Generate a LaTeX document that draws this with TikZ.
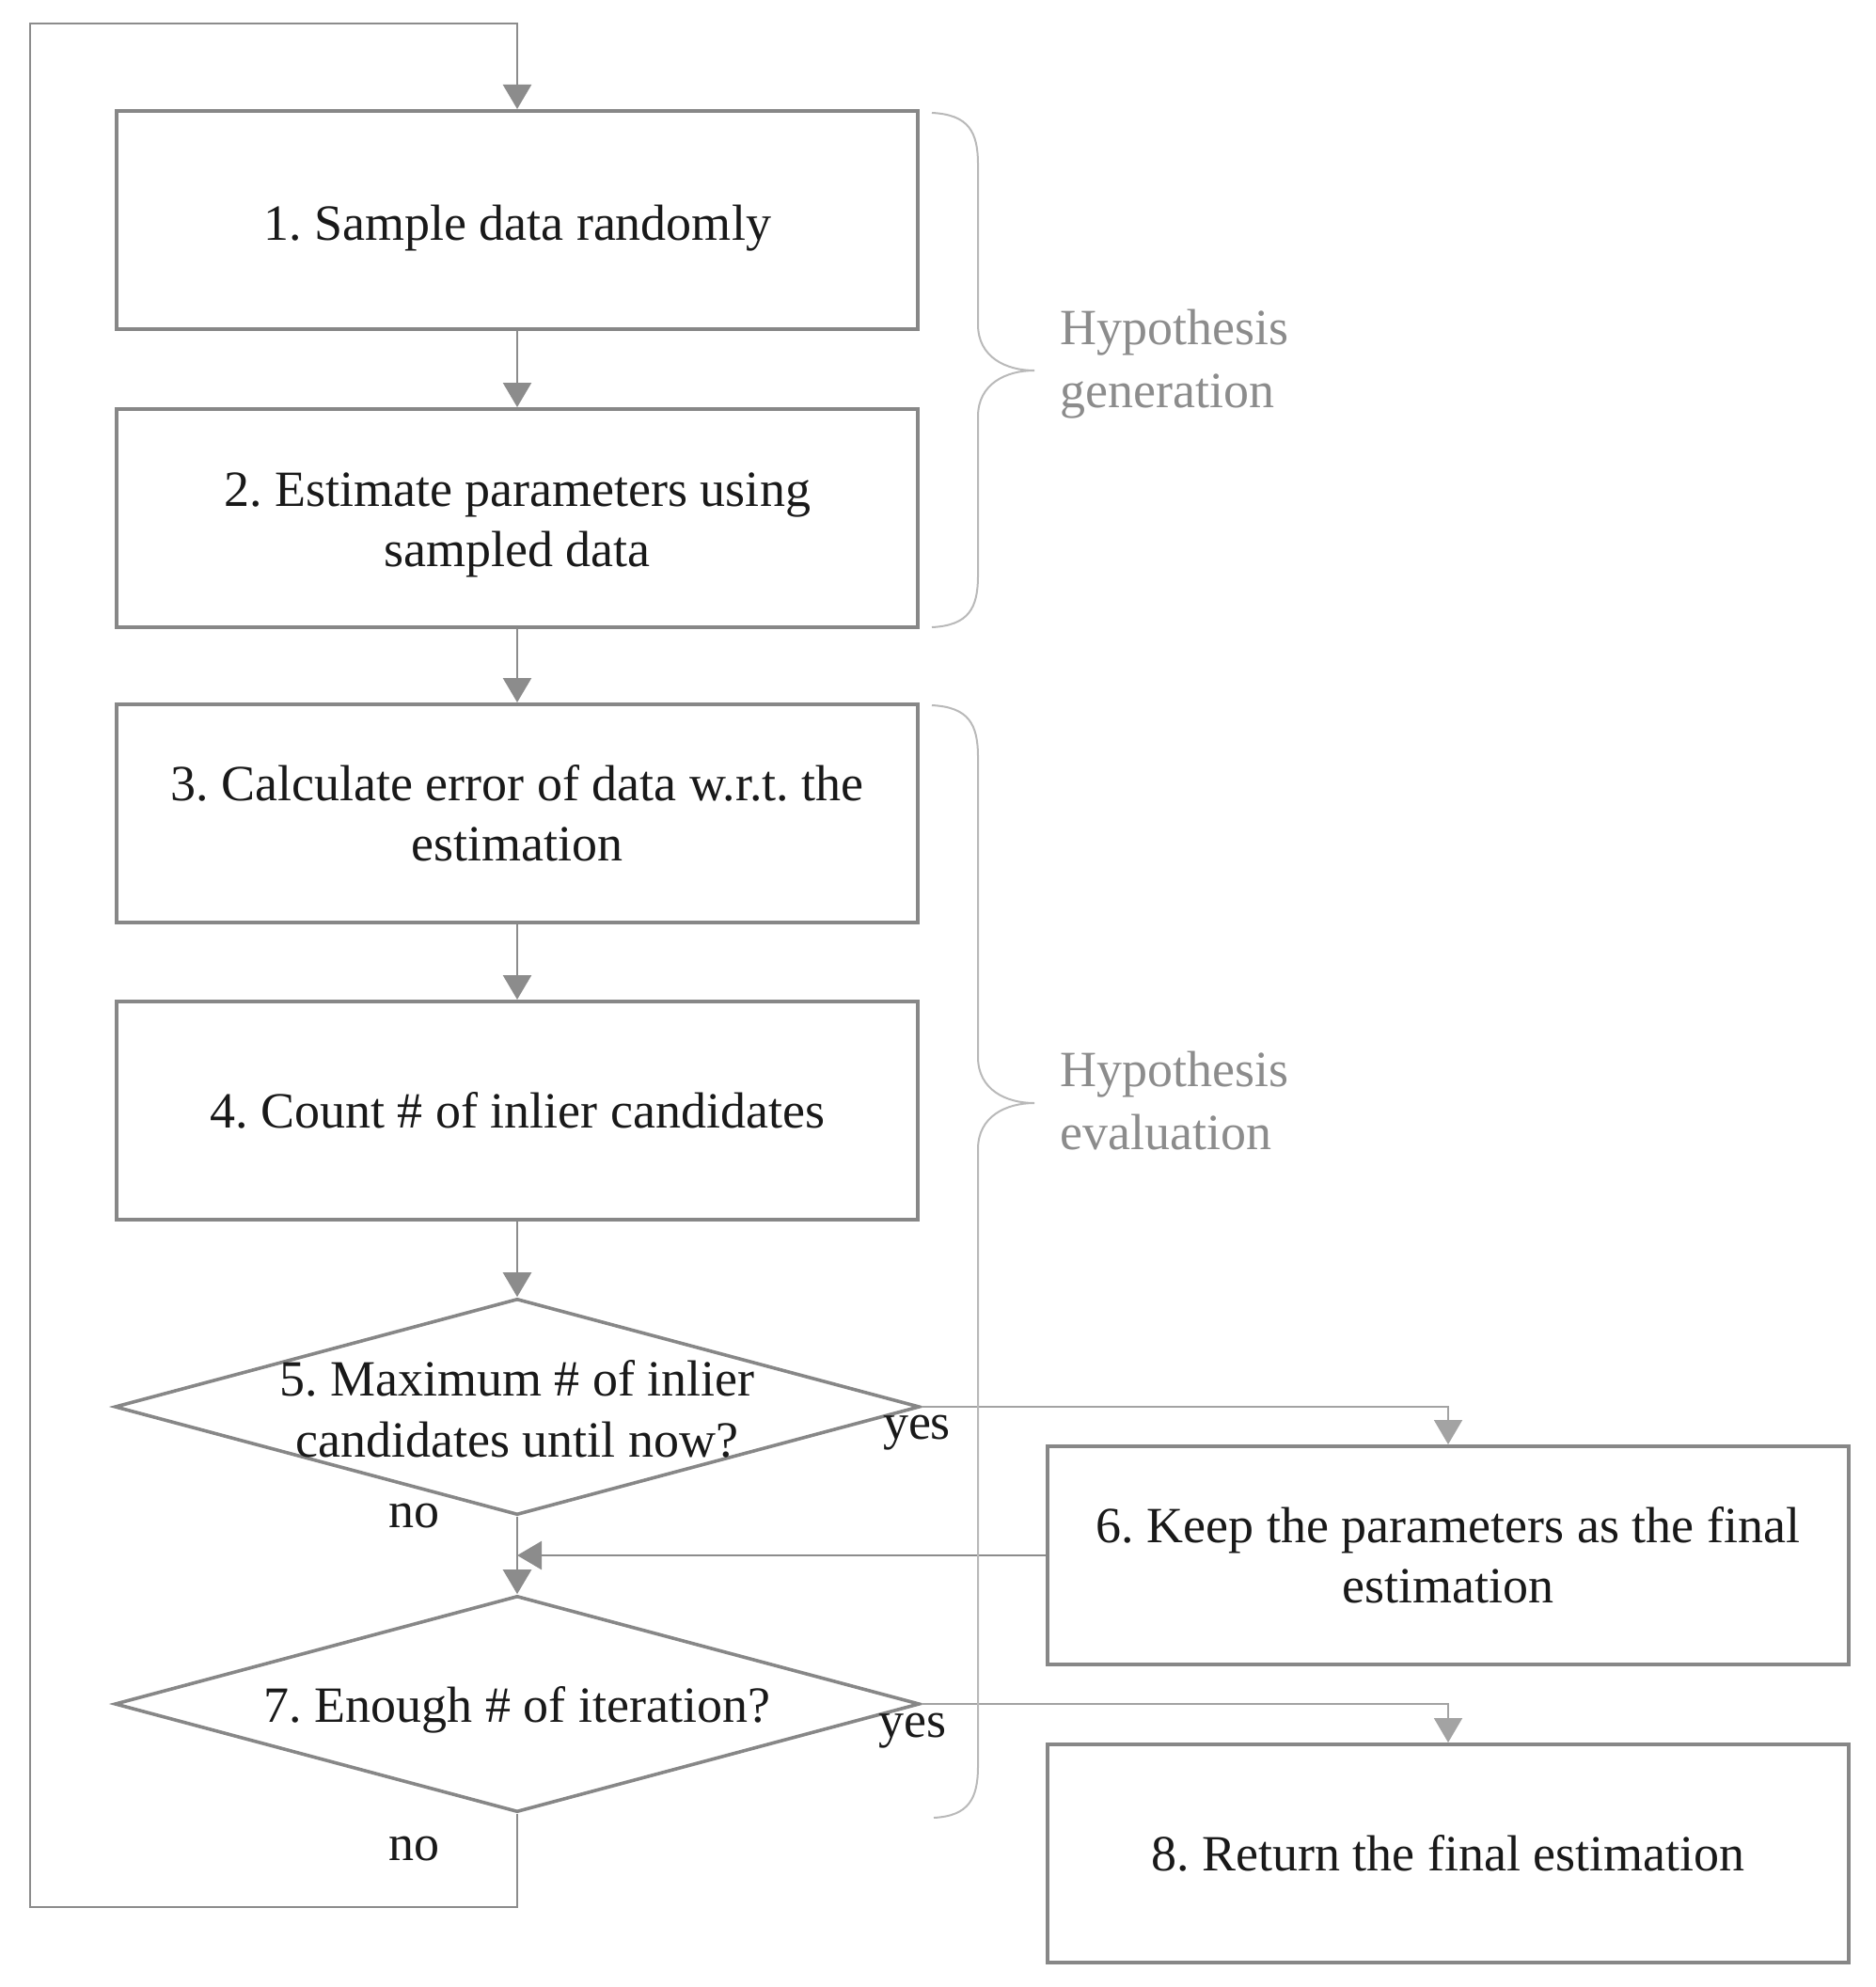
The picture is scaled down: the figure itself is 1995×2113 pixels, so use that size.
\documentclass[tikz,border=0pt]{standalone}
\usepackage{fontspec}
\setmainfont{Liberation Serif}
\frenchspacing
\usetikzlibrary{shapes.geometric,arrows.meta}
\definecolor{boxgray}{RGB}{135,135,135}
\definecolor{linegray}{RGB}{140,140,140}
\definecolor{bracegray}{RGB}{185,185,185}
\definecolor{hypgray}{RGB}{140,140,140}
\definecolor{txt}{RGB}{25,25,25}
\tikzset{
  stepbox/.style={draw=boxgray, line width=2pt, rectangle, minimum width=426pt, minimum height=116pt, inner sep=0pt, align=center, text=txt, font=\fontsize{27}{32}\selectfont},
  decbox/.style={draw=boxgray, line width=1.8pt, diamond, minimum width=428pt, minimum height=115pt, inner sep=0pt},
  dectext/.style={align=center, text=txt, font=\fontsize{27}{32.5}\selectfont, inner sep=0pt},
  lbl/.style={text=txt, font=\fontsize{27}{31}\selectfont, inner sep=0pt},
  conn/.style={draw=linegray, line width=1.3pt, -{Triangle[length=13pt,width=15pt]}},
  thinconn/.style={draw=linegray!80, line width=1pt, -{Triangle[length=13pt,width=15pt]}},
  bracestyle/.style={draw=bracegray, line width=1pt},
  hyp/.style={text=hypgray, font=\fontsize{27}{33.5}\selectfont, align=left, anchor=west, inner sep=0pt}
}
\begin{document}
\begin{tikzpicture}[x=0.5pt,y=-0.5pt]
\useasboundingbox (0,0) rectangle (1995,2113);
\node[stepbox] (b1) at (550,234) {\rule{0pt}{27pt}1. Sample data randomly};
\node[stepbox] (b2) at (550,551) {\rule{0pt}{25pt}2. Estimate parameters using\\sampled data};
\node[stepbox] (b3) at (550,865) {3. Calculate error of data w.r.t. the\\estimation};
\node[stepbox] (b4) at (550,1181) {4. Count \# of inlier candidates};
\node[decbox] (d5) at (550,1496) {};
\node[dectext] (d5t) at (550,1498) {5. Maximum \# of inlier\\candidates until now?};
\node[decbox] (d7) at (550,1812) {};
\node[dectext] (d7t) at (550,1818) {7. Enough \# of iteration?};
\node[stepbox] (b6) at (1540,1654) {6. Keep the parameters as the final\\estimation};
\node[stepbox] (b8) at (1540,1971) {8. Return the final estimation};

\node[lbl] (no5) at (440,1612) {no};
\node[lbl] (yes5) at (975,1524) {yes};
\node[lbl] (no7) at (440,1966) {no};
\node[lbl] (yes7) at (970,1841) {yes};

\node[hyp] (hg) at (1127,387) {Hypothesis\\generation};
\node[hyp] (he) at (1127,1171) {Hypothesis\\evaluation};

\draw[conn] (b1) -- (b2);
\draw[conn] (b2) -- (b3);
\draw[conn] (b3) -- (b4);
\draw[conn] (b4) -- (d5);
\draw[conn] (d5.south) -- (d7.north);
\draw[thinconn] (d5.east) -| (b6.north);
\draw[thinconn] (d7.east) -| (b8.north);
\draw[conn] (b6.west) -- (b6.west -| d5.south);

\coordinate (lb) at (32,2028);
\coordinate (lt) at (32,25);
\draw[conn] (d7.south) |- (lb) -- (lt) -| (b1.north);

\draw[bracestyle] (991,120) .. controls (1030,122) and (1040,140) .. (1040,175) -- (1040,345) .. controls (1040,380) and (1070,394) .. (1100,394) .. controls (1070,394) and (1040,408) .. (1040,443) -- (1040,612) .. controls (1040,647) and (1030,665) .. (991,667);
\draw[bracestyle] (991,750) .. controls (1030,752) and (1040,770) .. (1040,805) -- (1040,1124) .. controls (1040,1159) and (1070,1173) .. (1100,1173) .. controls (1070,1173) and (1040,1187) .. (1040,1222) -- (1040,1878) .. controls (1040,1913) and (1030,1931) .. (993,1933);
\end{tikzpicture}
\end{document}
